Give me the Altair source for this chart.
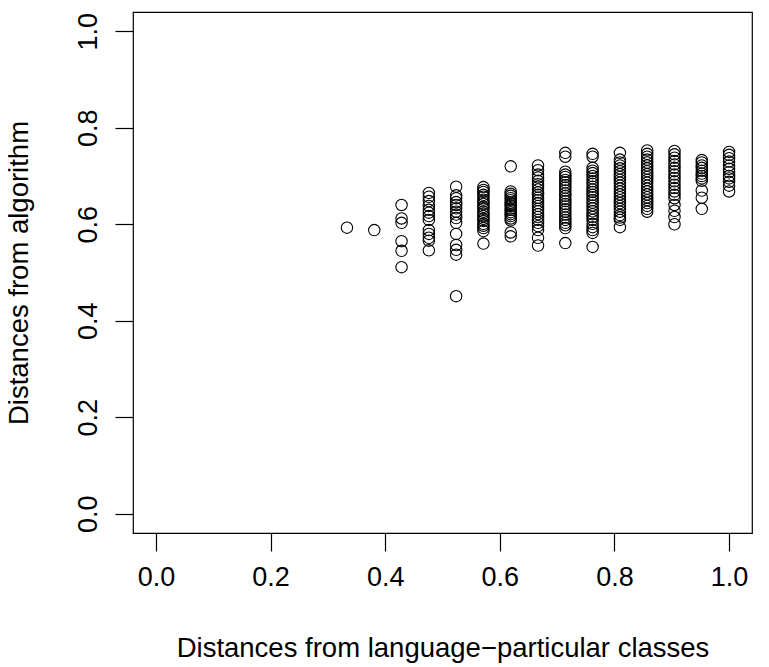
import altair as alt
import pandas as pd

# x positions (k/21) and the y values observed in each column
x_steps = [7, 8, 9, 10, 11, 12, 13, 14, 15, 16, 17, 18, 19, 20, 21]
denominator = 21

col_07 = [0.593]
col_08 = [0.588]
col_09 = [0.640, 0.612, 0.603, 0.565, 0.545, 0.511]
col_10 = [0.665, 0.657, 0.648, 0.638, 0.630, 0.624, 0.617, 0.609, 0.588, 0.580, 0.572, 0.566, 0.546]
col_11 = [0.678, 0.660, 0.654, 0.646, 0.640, 0.633, 0.626, 0.620, 0.613, 0.603, 0.580, 0.557, 0.547, 0.537, 0.451]
col_12 = [0.677, 0.671, 0.667, 0.661, 0.657, 0.651, 0.647, 0.642, 0.636, 0.632, 0.626, 0.622, 0.617, 0.611, 0.607, 0.601, 0.597, 0.592, 0.586, 0.560]
col_13 = [0.720, 0.668, 0.663, 0.659, 0.654, 0.650, 0.645, 0.642, 0.638, 0.633, 0.630, 0.625, 0.621, 0.617, 0.612, 0.608, 0.583, 0.575]
col_14 = [0.722, 0.712, 0.703, 0.697, 0.690, 0.683, 0.678, 0.672, 0.666, 0.661, 0.655, 0.650, 0.644, 0.638, 0.632, 0.627, 0.621, 0.615, 0.609, 0.603, 0.596, 0.588, 0.572, 0.556]
col_15 = [0.748, 0.740, 0.709, 0.703, 0.698, 0.692, 0.687, 0.681, 0.676, 0.670, 0.664, 0.659, 0.653, 0.648, 0.642, 0.637, 0.631, 0.626, 0.620, 0.614, 0.609, 0.603, 0.598, 0.592, 0.561]
col_16 = [0.746, 0.740, 0.717, 0.711, 0.706, 0.700, 0.695, 0.689, 0.684, 0.678, 0.672, 0.667, 0.661, 0.656, 0.650, 0.645, 0.639, 0.633, 0.627, 0.621, 0.615, 0.609, 0.601, 0.594, 0.588, 0.582, 0.553]
col_17 = [0.748, 0.734, 0.728, 0.722, 0.716, 0.710, 0.704, 0.698, 0.692, 0.686, 0.680, 0.674, 0.668, 0.662, 0.656, 0.650, 0.644, 0.638, 0.632, 0.626, 0.619, 0.614, 0.609, 0.594]
col_18 = [0.753, 0.746, 0.740, 0.734, 0.728, 0.722, 0.716, 0.710, 0.704, 0.698, 0.692, 0.686, 0.680, 0.674, 0.668, 0.662, 0.656, 0.650, 0.644, 0.638, 0.632, 0.626]
col_19 = [0.752, 0.745, 0.738, 0.731, 0.724, 0.717, 0.710, 0.703, 0.696, 0.689, 0.682, 0.675, 0.668, 0.661, 0.654, 0.640, 0.628, 0.615, 0.600]
col_20 = [0.733, 0.728, 0.722, 0.717, 0.711, 0.705, 0.700, 0.695, 0.690, 0.670, 0.655, 0.632]
col_21 = [0.750, 0.744, 0.737, 0.730, 0.722, 0.715, 0.708, 0.700, 0.695, 0.688, 0.680, 0.668]

columns = [col_07, col_08, col_09, col_10, col_11, col_12, col_13, col_14,
           col_15, col_16, col_17, col_18, col_19, col_20, col_21]

x_ticks = [0.0, 0.2, 0.4, 0.6, 0.8, 1.0]
y_ticks = [0.0, 0.2, 0.4, 0.6, 0.8, 1.0]

rows = []
for k, ys in zip(x_steps, columns):
    for y in ys:
        rows.append({"lp": k / denominator, "alg": y})
df = pd.DataFrame(rows)

FONT = "Liberation Sans"

chart = alt.Chart(df).mark_point(
    shape="circle", filled=False, color="black", size=130, strokeWidth=1.1, opacity=1
).encode(
    x=alt.X("lp:Q", scale=alt.Scale(domain=[-0.04, 1.04], nice=False, zero=False),
            axis=alt.Axis(values=x_ticks, format=".1f", title="Distances from language\u2212particular classes",
                          titleY=123, titleBaseline="alphabetic")),
    y=alt.Y("alg:Q", scale=alt.Scale(domain=[-0.04, 1.04], nice=False, zero=False),
            axis=alt.Axis(values=y_ticks, format=".1f", title="Distances from algorithm",
                          labelAngle=-90, labelAlign="center", labelBaseline="bottom",
                          titleX=-106, titleAngle=-90, titleBaseline="alphabetic")),
).properties(
    width=619, height=521,
    background="white",
    autosize=alt.AutoSizeParams(type="none"),
    padding={"left": 125, "top": 4, "right": 9, "bottom": 130},
).configure_view(
    stroke="black", strokeWidth=1.2
).configure_axis(
    domain=False, grid=False, tickColor="black", tickWidth=1.2, tickSize=18,
    labelFont=FONT, labelFontSize=27, labelColor="black", labelPadding=13,
    titleFont=FONT, titleFontSize=27.5, titleColor="black", titleFontWeight="normal",
    labelFlush=False, labelOverlap=False,
)

chart.save("out.html", embed_options={"renderer": "svg", "actions": False})
